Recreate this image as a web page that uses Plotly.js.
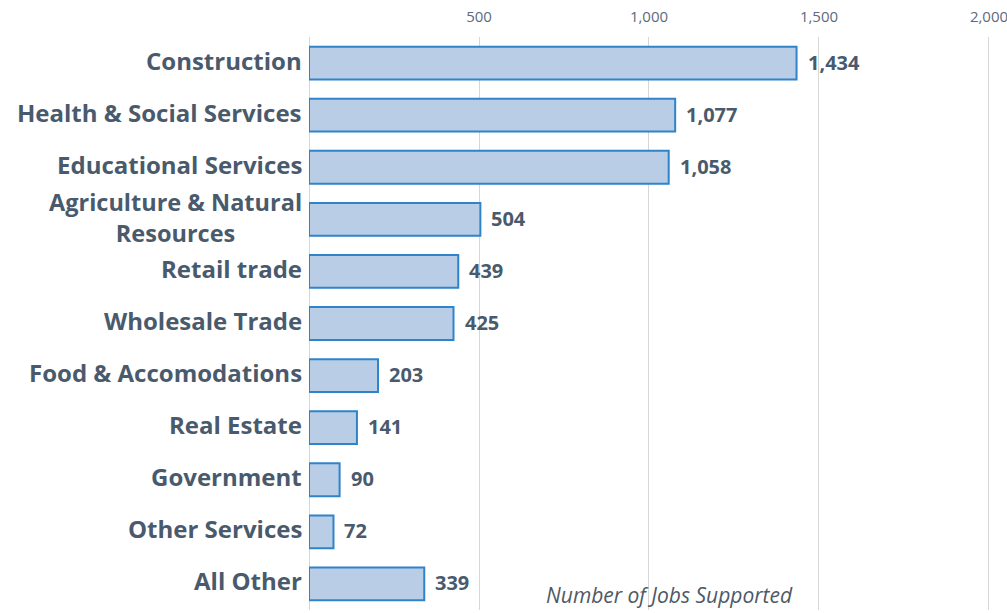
<!DOCTYPE html>
<html>
<head>
<meta charset="utf-8">
<script src="https://cdn.plot.ly/plotly-3.0.1.min.js"></script>
<style>html,body{margin:0;padding:0;background:#fff;}#chart{width:1007px;height:613px;}</style>
</head>
<body>
<div id="chart"></div>
<script>
const categories = ["Construction", "Health & Social Services", "Educational Services", "Agriculture & Natural<br>Resources", "Retail trade", "Wholesale Trade", "Food & Accomodations", "Real Estate", "Government", "Other Services", "All Other"];
const jobs = [1434, 1077, 1058, 504, 439, 425, 203, 141, 90, 72, 339];
const tickValues = [500, 1000, 1500, 2000];
const tickLabels = ["500", "1,000", "1,500", "2,000"];
const axisTitle = "Number of Jobs Supported";

const labelColor = "#4a5a6d";
const fontFam = "'Open Sans', 'DejaVu Sans', sans-serif";

const trace = {
  type: "bar",
  orientation: "h",
  y: categories,
  x: jobs,
  width: 0.63,
  marker: {color: "#b9cde6", line: {color: "#2f84c9", width: 2}},
  hoverinfo: "none"
};

const annotations = [];
categories.forEach((c, i) => {
  const multi = c.indexOf("<br>") >= 0;
  annotations.push({
    xref: "paper", yref: "y", x: 0, y: c, text: c,
    xanchor: "right", yanchor: "middle", align: "center", showarrow: false,
    xshift: -5, yshift: multi ? 2 : 3,
    font: {family: fontFam, size: multi ? 23.5 : 24, color: labelColor, weight: 700}
  });
  annotations.push({
    xref: "x", yref: "y", x: jobs[i], y: c, text: jobs[i].toLocaleString("en-US"),
    xanchor: "left", yanchor: "middle", showarrow: false, xshift: 9, yshift: 1,
    font: {family: fontFam, size: 20, color: labelColor, weight: 700}
  });
});
annotations.push({
  xref: "paper", yref: "paper", x: 0.337, y: -0.002, text: axisTitle,
  xanchor: "left", yanchor: "bottom", showarrow: false,
  font: {family: fontFam, size: 21, color: "#4f5966", style: "italic"}
});

const layout = {
  width: 1007, height: 613,
  margin: {l: 309, r: 0, t: 37, b: 3, pad: 0},
  paper_bgcolor: "#ffffff", plot_bgcolor: "#ffffff",
  showlegend: false,
  xaxis: {
    side: "top", range: [0, 2053], tickvals: tickValues, ticktext: tickLabels,
    showgrid: true, gridcolor: "#d6d6d6", gridwidth: 1,
    zeroline: true, zerolinecolor: "#d6d6d6", zerolinewidth: 1,
    ticks: "", tickfont: {family: fontFam, size: 15, color: "#5d6a7c"},
    ticklabelstandoff: 11, ticklabeloverflow: "allow",
    showline: false, fixedrange: true
  },
  yaxis: {
    autorange: "reversed", showticklabels: false, showgrid: false,
    zeroline: false, ticks: "", showline: false, range: [10.5, -0.5]
  },
  annotations: annotations,
  font: {family: fontFam}
};

Plotly.newPlot("chart", [trace], layout, {displayModeBar: false, staticPlot: true});
</script>
</body>
</html>
